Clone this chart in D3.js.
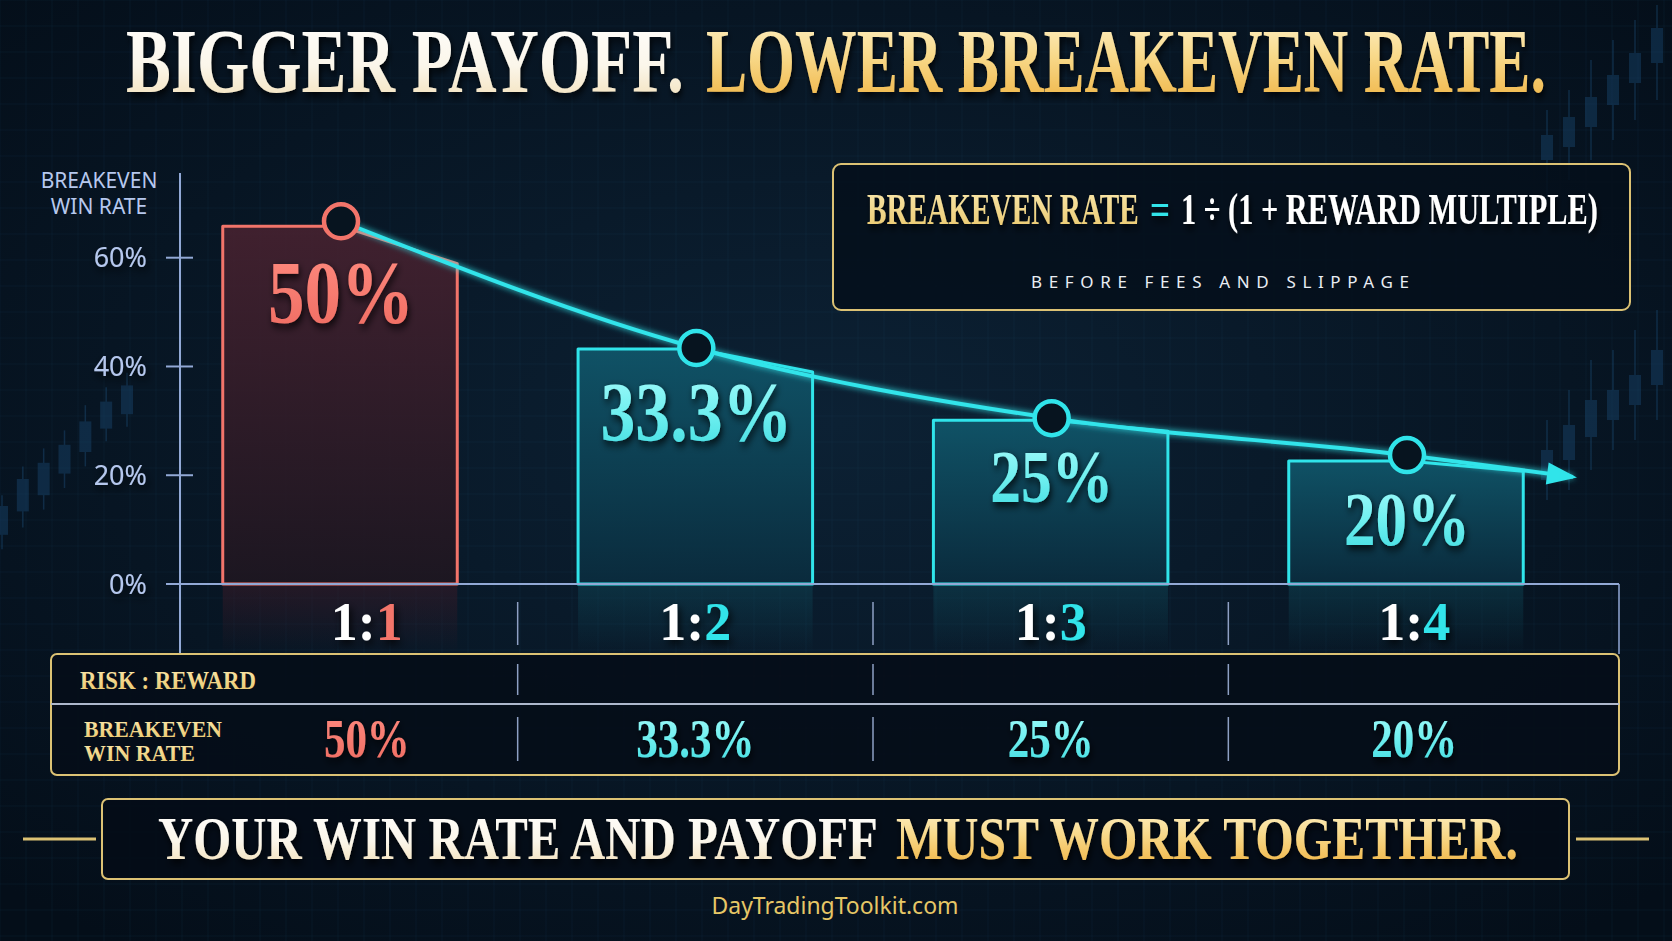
<!DOCTYPE html>
<html>
<head>
<meta charset="utf-8">
<script src="https://cdn.jsdelivr.net/npm/d3@7"></script>
<style>
  html, body { margin: 0; padding: 0; background: #061320; }
  svg { display: block; }
</style>
</head>
<body>
<svg id="chart" width="1672" height="941"></svg>
<script>
// ---------------- DATA ----------------
const categories = ["1:1", "1:2", "1:3", "1:4"];
const riskPart = ["1:", "1:", "1:", "1:"];
const rewardPart = ["1", "2", "3", "4"];
const breakevenLabels = ["50%", "33.3%", "25%", "20%"];
// heights as drawn in the picture, in axis units (%)
const barTops = [65.8, 43.2, 30.1, 22.6];
const markerLevels = [66.7, 43.4, 30.5, 23.7];
const arrowEndLevel = 19.7;
const yTicks = [0, 20, 40, 60];
const yTickLabels = ["0%", "20%", "40%", "60%"];
const yTitle = ["BREAKEVEN", "WIN RATE"];
const titleWhite = "BIGGER PAYOFF.";
const titleGold = "LOWER BREAKEVEN RATE.";
const formulaGold = "BREAKEVEN RATE";
const formulaEq = "=";
const formulaWhite = "1 ÷ (1 + REWARD MULTIPLE)";
const formulaNote = "BEFORE FEES AND SLIPPAGE";
const rowLabel1 = ["RISK : REWARD"];
const rowLabel2 = ["BREAKEVEN", "WIN RATE"];
const bannerWhite = "YOUR WIN RATE AND PAYOFF";
const bannerGold = "MUST WORK TOGETHER.";
const footer = "DayTradingToolkit.com";
// decorative background candles [open, close, high, low]
const leftCandles = [[14,30,36,6],[27,45,52,18],[36,54,62,28],[48,64,72,40],[60,77,86,52],[73,88,96,66],[81,97,104,74]];
const rightCandlesTop = [[68,73,78,60],[70.6,76.6,82,64],[74.6,80.6,88,68],[79,85,92,72],[83.4,89.4,96,76],[87.4,94.4,99,80]];
const rightCandlesLow = [[4,10,16,0],[8,15,22,2],[12.6,20,28,6],[16,22,30,10],[19,25,34,12],[23,30,38,16]];

// ---------------- STYLE ----------------
const W = 1672, H = 941;
const RED = "#f2746a", CYAN = "#30e4ea", GOLD = "#dcc274", AXIS = "#92a9d6";
const SERIF = "Liberation Serif, serif", SANS = "Noto Sans, sans-serif";
const labelSizes = [88, 84, 74, 76];

const svg = d3.select("#chart");
const defs = svg.append("defs");

function vGrad(id, stops) {
  const g = defs.append("linearGradient").attr("id", id).attr("x1", 0).attr("y1", 0).attr("x2", 0).attr("y2", 1);
  stops.forEach(s => g.append("stop").attr("offset", s[0]).attr("stop-color", s[1]).attr("stop-opacity", s[2] == null ? 1 : s[2]));
}
function hGrad(id, stops) {
  const g = defs.append("linearGradient").attr("id", id).attr("x1", 0).attr("y1", 0).attr("x2", 1).attr("y2", 0);
  stops.forEach(s => g.append("stop").attr("offset", s[0]).attr("stop-color", s[1]).attr("stop-opacity", s[2] == null ? 1 : s[2]));
}
vGrad("whiteGrad", [[0, "#ffffff"], [0.55, "#fbf6ea"], [1, "#f1dcb0"]]);
vGrad("goldGrad", [[0, "#fff4d0"], [0.45, "#f8d98a"], [1, "#eeae3a"]]);
vGrad("goldSmall", [[0, "#fbeab0"], [1, "#e9c66a"]]);
vGrad("redText", [[0, "#ff8c80"], [1, "#ee6a60"]]);
vGrad("cyanText", [[0, "#a8fbfb"], [0.5, "#70f0f0"], [1, "#3bd9df"]]);
vGrad("redBar", [[0, "#4a2230", 0.85], [1, "#1e1620", 0.9]]);
vGrad("cyanBar", [[0, "#10586c", 0.9], [1, "#0a2c3e", 0.9]]);
vGrad("redRefl", [[0, "#3c1a26", 0.55], [1, "#3c1a26", 0.0]]);
vGrad("cyanRefl", [[0, "#0e4656", 0.5], [1, "#0e4656", 0.0]]);
hGrad("lineGold", [[0, "#b89a4a"], [0.5, "#f6e2a0"], [1, "#b89a4a"]]);
const rg = defs.append("radialGradient").attr("id", "bgGrad").attr("cx", "50%").attr("cy", "45%").attr("r", "70%");
rg.append("stop").attr("offset", 0).attr("stop-color", "#0c2134");
rg.append("stop").attr("offset", 1).attr("stop-color", "#040e19");

const sh = defs.append("filter").attr("id", "shadow").attr("x", "-20%").attr("y", "-30%").attr("width", "140%").attr("height", "160%");
sh.append("feDropShadow").attr("dx", 2).attr("dy", 4).attr("stdDeviation", 4).attr("flood-color", "#000").attr("flood-opacity", 0.85);
const glow = defs.append("filter").attr("id", "glow").attr("x", "-10%").attr("y", "-50%").attr("width", "120%").attr("height", "200%");
glow.append("feGaussianBlur").attr("stdDeviation", 3).attr("result", "b");
const gm = glow.append("feMerge");
gm.append("feMergeNode").attr("in", "b");
gm.append("feMergeNode").attr("in", "SourceGraphic");

// ---------------- BACKGROUND ----------------
svg.append("rect").attr("width", W).attr("height", H).attr("fill", "url(#bgGrad)");
const grid = svg.append("g").attr("stroke", "#2a4a6a").attr("stroke-opacity", 0.13).attr("stroke-width", 1);
grid.selectAll("line.v").data(d3.range(0, W, 26)).join("line").attr("x1", d => d).attr("x2", d => d).attr("y1", 0).attr("y2", H);
grid.selectAll("line.h").data(d3.range(0, H, 26)).join("line").attr("y1", d => d).attr("y2", d => d).attr("x1", 0).attr("x2", W);

function drawCandles(data, xRange, yScale) {
  const cx = d3.scalePoint().domain(d3.range(data.length)).range(xRange);
  const g = svg.append("g").attr("opacity", 0.42);
  data.forEach((c, i) => {
    g.append("line").attr("x1", cx(i)).attr("x2", cx(i)).attr("y1", yScale(c[2])).attr("y2", yScale(c[3]))
      .attr("stroke", "#1d4f7a").attr("stroke-width", 1.5);
    g.append("rect").attr("x", cx(i) - 6).attr("width", 12)
      .attr("y", yScale(Math.max(c[0], c[1]))).attr("height", Math.abs(yScale(c[0]) - yScale(c[1])))
      .attr("fill", "#1a4a74");
  });
}
drawCandles(leftCandles, [2, 127], d3.scaleLinear().domain([0, 100]).range([560, 380]));
const rY = d3.scaleLinear().domain([0, 100]).range([500, 0]);
drawCandles(rightCandlesTop, [1547, 1657], rY);
drawCandles(rightCandlesLow, [1547, 1657], rY);

// ---------------- SCALES ----------------
const x = d3.scalePoint().domain(categories).range([340, 1406]);
const step = x.step();
const barW = step * 0.66;
const y = d3.scaleLinear().domain([0, 60]).range([584, 257.7]);
const y0 = y(0);

const linePts = categories.map((c, i) => [x(c) + 1, y(markerLevels[i])]);
const arrowPt = [x(categories[categories.length - 1]) + step * 0.47, y(arrowEndLevel)];
const allPts = linePts.concat([arrowPt]);
function lineAt(px) {
  for (let i = 0; i < allPts.length - 1; i++) {
    const a = allPts[i], b = allPts[i + 1];
    if (px >= a[0] && px <= b[0]) return a[1] + (b[1] - a[1]) * (px - a[0]) / (b[0] - a[0]);
  }
  return allPts[allPts.length - 1][1];
}
const seps = categories.slice(1).map((c, i) => (x(categories[i]) + x(c)) / 2);
const colBounds = [216].concat(seps).concat([1600]);
const colCenter = i => (colBounds[i] + colBounds[i + 1]) / 2;

// text squeezed horizontally with a transform so its drawn box is its true box
function fitText(g, o) {
  const t = g.append("text").attr("x", 0).attr("y", 0)
    .attr("text-anchor", o.anchor || "start")
    .attr("font-family", o.family || SERIF).attr("font-weight", o.weight || 700)
    .attr("font-size", o.size).attr("fill", o.fill)
    .attr("filter", o.filter || null)
    .text(o.text);
  const w = t.node().getComputedTextLength();
  const s = o.len ? o.len / w : (o.factor || 1);
  t.attr("transform", `translate(${o.x},${o.y}) scale(${s},1)`);
  return t;
}

// ---------------- TITLE ----------------
fitText(svg, { x: 126, y: 92, size: 92, fill: "url(#whiteGrad)", len: 558, text: titleWhite, filter: "url(#shadow)" });
fitText(svg, { x: 706, y: 92, size: 92, fill: "url(#goldGrad)", len: 840, text: titleGold, filter: "url(#shadow)" });
svg.append("line").attr("x1", 128).attr("x2", 368).attr("y1", 119).attr("y2", 119).attr("stroke", "url(#lineGold)").attr("stroke-width", 3);
svg.append("line").attr("x1", 1303).attr("x2", 1544).attr("y1", 125).attr("y2", 125).attr("stroke", "url(#lineGold)").attr("stroke-width", 3);

// ---------------- FORMULA BOX ----------------
svg.append("rect").attr("x", 833).attr("y", 164).attr("width", 797).attr("height", 146).attr("rx", 8)
  .attr("fill", "#050f1b").attr("fill-opacity", 0.85).attr("stroke", GOLD).attr("stroke-width", 2);
fitText(svg, { x: 867, y: 224, size: 44, fill: "url(#goldSmall)", len: 272, text: formulaGold, filter: "url(#shadow)" });
fitText(svg, { x: 1150, y: 224, size: 44, fill: CYAN, len: 20, text: formulaEq, filter: "url(#shadow)" });
fitText(svg, { x: 1181, y: 224, size: 44, fill: "#ffffff", len: 417, text: formulaWhite, filter: "url(#shadow)" });
svg.append("line").attr("x1", 867).attr("x2", 1596).attr("y1", 252).attr("y2", 252).attr("stroke", "url(#lineGold)").attr("stroke-width", 2.5);
(function () {
  const t = svg.append("text").attr("x", 1220).attr("y", 288).attr("text-anchor", "middle")
    .attr("font-family", SANS).attr("font-size", 17).attr("fill", "#e9edf3").text(formulaNote);
  const w = t.node().getComputedTextLength();
  const ls = (378 - w) / (formulaNote.length - 1);
  t.attr("letter-spacing", ls).attr("x", 1220 + ls / 2);
})();

// ---------------- REFLECTIONS BELOW AXIS ----------------
svg.append("g").selectAll("rect").data(categories).join("rect")
  .attr("x", d => x(d) - barW / 2).attr("width", barW).attr("y", y0).attr("height", 70)
  .attr("fill", (d, i) => i === 0 ? "url(#redRefl)" : "url(#cyanRefl)");

// ---------------- BARS ----------------
const barG = svg.append("g");
categories.forEach((c, i) => {
  const l = x(c) - barW / 2, r = x(c) + barW / 2, cx = x(c) + 1;
  const top = y(barTops[i]);
  const pts = [[l, y0], [l, top], [cx, top], [r, lineAt(r) + 1], [r, y0]];
  barG.append("path").attr("d", d3.line()(pts) + "Z")
    .attr("fill", i === 0 ? "url(#redBar)" : "url(#cyanBar)")
    .attr("stroke", i === 0 ? RED : CYAN).attr("stroke-width", 3)
    .attr("stroke-linejoin", "round");
});

// ---------------- AXES ----------------
const axisG = svg.append("g");
axisG.append("line").attr("x1", 180).attr("x2", 180).attr("y1", 173).attr("y2", 654).attr("stroke", AXIS).attr("stroke-width", 2);
axisG.append("line").attr("x1", 166).attr("x2", 1619).attr("y1", y0).attr("y2", y0).attr("stroke", AXIS).attr("stroke-width", 2);
axisG.append("line").attr("x1", 1619).attr("x2", 1619).attr("y1", y0).attr("y2", 654).attr("stroke", AXIS).attr("stroke-width", 1.5);
axisG.selectAll("line.tick").data(yTicks).join("line").attr("class", "tick")
  .attr("x1", 166).attr("x2", 193).attr("y1", d => y(d)).attr("y2", d => y(d)).attr("stroke", AXIS).attr("stroke-width", 2);
axisG.selectAll("text.tl").data(yTicks).join("text").attr("class", "tl")
  .attr("x", 147).attr("y", d => y(d)).attr("dy", "0.36em").attr("text-anchor", "end")
  .attr("font-family", SANS).attr("font-size", 27).attr("fill", "#b6c8ee")
  .attr("filter", "url(#shadow)")
  .text((d, i) => yTickLabels[i]);
axisG.selectAll("text.yt").data(yTitle).join("text").attr("class", "yt")
  .attr("x", 99).attr("y", (d, i) => 188 + i * 26).attr("text-anchor", "middle")
  .attr("font-family", SANS).attr("font-size", 21).attr("fill", "#b6c8ee")
  .text(d => d);

// ---------------- LINE + MARKERS ----------------
svg.append("path").attr("d", d3.line().curve(d3.curveMonotoneX)(allPts))
  .attr("fill", "none").attr("stroke", CYAN).attr("stroke-width", 4).attr("filter", "url(#glow)");
(function () {
  const a = allPts[allPts.length - 2], b = arrowPt;
  const ang = Math.atan2(b[1] - a[1], b[0] - a[0]);
  const L = 26, Wd = 11;
  const p1 = [b[0] + 4 * Math.cos(ang), b[1] + 4 * Math.sin(ang)];
  const base = [b[0] - L * Math.cos(ang), b[1] - L * Math.sin(ang)];
  const p2 = [base[0] - Wd * Math.sin(ang), base[1] + Wd * Math.cos(ang)];
  const p3 = [base[0] + Wd * Math.sin(ang), base[1] - Wd * Math.cos(ang)];
  svg.append("path").attr("d", d3.line()([p1, p2, p3]) + "Z").attr("fill", CYAN);
})();
svg.append("g").selectAll("circle").data(linePts).join("circle")
  .attr("cx", d => d[0]).attr("cy", d => d[1]).attr("r", 17)
  .attr("fill", "#07141f").attr("stroke", (d, i) => i === 0 ? RED : CYAN).attr("stroke-width", 4.5);

// ---------------- VALUE LABELS ----------------
const valG = svg.append("g");
categories.forEach((c, i) => {
  fitText(valG, {
    x: x(c) + 1, y: y(barTops[i]) + labelSizes[i] + 8, anchor: "middle",
    size: labelSizes[i], factor: 0.83, text: breakevenLabels[i],
    fill: i === 0 ? "url(#redText)" : "url(#cyanText)", filter: "url(#shadow)"
  });
});

// ---------------- CATEGORY LABELS ----------------
const catG = svg.append("g");
catG.selectAll("text").data(categories).join("text")
  .attr("x", (d, i) => colCenter(i)).attr("y", 640).attr("text-anchor", "middle")
  .attr("font-family", SERIF).attr("font-weight", 700).attr("font-size", 54)
  .attr("filter", "url(#shadow)")
  .each(function (d, i) {
    const t = d3.select(this);
    t.append("tspan").attr("fill", "#ffffff").text(riskPart[i]);
    t.append("tspan").attr("fill", i === 0 ? RED : CYAN).text(rewardPart[i]);
  });
catG.selectAll("line").data(seps).join("line")
  .attr("x1", d => d).attr("x2", d => d).attr("y1", 602).attr("y2", 645)
  .attr("stroke", "#8ea0c4").attr("stroke-width", 1.5);

// ---------------- TABLE ----------------
const tbl = svg.append("g");
tbl.append("rect").attr("x", 51).attr("y", 654).attr("width", 1568).attr("height", 121).attr("rx", 6)
  .attr("fill", "#050d18").attr("fill-opacity", 0.9).attr("stroke", GOLD).attr("stroke-width", 2);
tbl.append("line").attr("x1", 51).attr("x2", 1619).attr("y1", 704).attr("y2", 704).attr("stroke", "#aeb8cc").attr("stroke-width", 2);
tbl.selectAll("line.s1").data(seps).join("line").attr("class", "s1")
  .attr("x1", d => d).attr("x2", d => d).attr("y1", 664).attr("y2", 695).attr("stroke", "#8ea0c4").attr("stroke-width", 1.5);
tbl.selectAll("line.s2").data(seps).join("line").attr("class", "s2")
  .attr("x1", d => d).attr("x2", d => d).attr("y1", 717).attr("y2", 761).attr("stroke", "#8ea0c4").attr("stroke-width", 1.5);
fitText(tbl, { x: 80, y: 689, size: 26, fill: "url(#goldSmall)", len: 176, text: rowLabel1[0] });
rowLabel2.forEach((d, i) => {
  fitText(tbl, { x: 84, y: 737 + i * 24, size: 24, fill: "url(#goldSmall)", len: i === 0 ? 138 : 111, text: d });
});
categories.forEach((c, i) => {
  fitText(tbl, {
    x: colCenter(i), y: 757, anchor: "middle", size: 55, factor: 0.78, text: breakevenLabels[i],
    fill: i === 0 ? "url(#redText)" : "url(#cyanText)", filter: "url(#shadow)"
  });
});

// ---------------- BANNER ----------------
svg.append("line").attr("x1", 23).attr("x2", 96).attr("y1", 839).attr("y2", 839).attr("stroke", GOLD).attr("stroke-width", 3);
svg.append("line").attr("x1", 1576).attr("x2", 1649).attr("y1", 839).attr("y2", 839).attr("stroke", GOLD).attr("stroke-width", 3);
svg.append("rect").attr("x", 102).attr("y", 799).attr("width", 1467).attr("height", 80).attr("rx", 6)
  .attr("fill", "#040c17").attr("fill-opacity", 0.9).attr("stroke", GOLD).attr("stroke-width", 2);
fitText(svg, { x: 158, y: 859, size: 62, fill: "url(#whiteGrad)", len: 720, text: bannerWhite, filter: "url(#shadow)" });
fitText(svg, { x: 896, y: 859, size: 62, fill: "url(#goldGrad)", len: 622, text: bannerGold, filter: "url(#shadow)" });

// ---------------- FOOTER ----------------
svg.append("line").attr("x1", 64).attr("x2", 691).attr("y1", 905).attr("y2", 905).attr("stroke", "url(#lineGold)").attr("stroke-width", 3);
svg.append("line").attr("x1", 979).attr("x2", 1607).attr("y1", 905).attr("y2", 905).attr("stroke", "url(#lineGold)").attr("stroke-width", 3);
fitText(svg, { x: 835, y: 914, anchor: "middle", family: SANS, weight: 400, size: 23, fill: "#e6c766", len: 247, text: footer });
</script>
</body>
</html>
